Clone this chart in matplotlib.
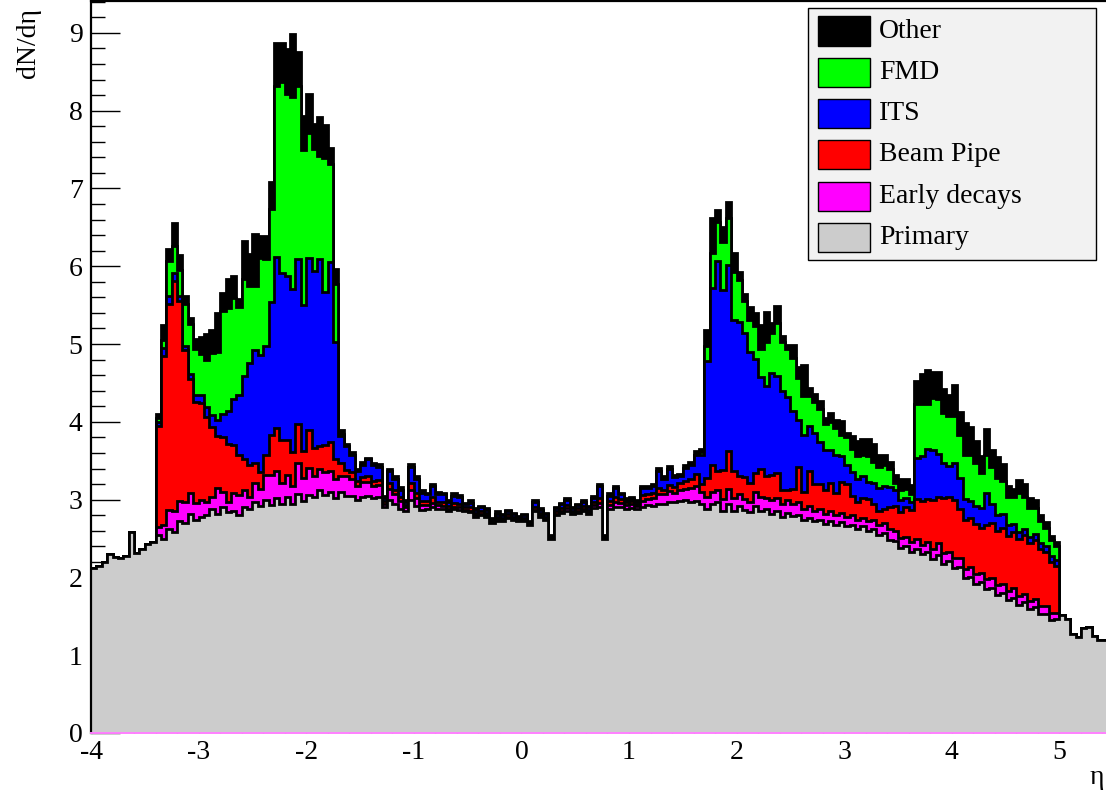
import numpy as np
import matplotlib.pyplot as plt
from matplotlib.patches import Rectangle
from matplotlib.ticker import MultipleLocator

plt.rcParams['font.family'] = ['Liberation Serif', 'DejaVu Serif']
plt.rcParams['axes.unicode_minus'] = False

# Binning: eta from -4 in steps of 0.05
eta_min = -4.0
bin_width = 0.05
n_bins = 189
stack_first = 12   # first bin with secondaries (eta = -3.40)
fmd_fwd_first = 113  # first bin of forward FMD part (eta = 1.65)

# Primary particles, all bins
primary = [
    2.12, 2.15, 2.20, 2.30, 2.26, 2.25, 2.28, 2.58, 2.31, 2.36, 2.43, 2.46,
    # -3.40 .. -1.70
    2.55, 2.50, 2.62, 2.58, 2.72, 2.70, 2.82, 2.74, 2.78, 2.80,
    2.88, 2.82, 2.90, 2.84, 2.86, 2.80, 2.90, 2.88, 2.97, 2.92,
    2.99, 2.93, 3.02, 2.95, 3.04, 2.94, 3.07, 2.98, 3.06, 3.04,
    3.12, 3.06, 3.10, 3.02, 3.10,
    # -1.65 .. 1.60
    3.05, 3.05, 3.00, 3.03, 3.05, 3.02, 3.03, 2.90, 3.00, 2.95,
    2.88, 2.85, 3.00, 2.92, 2.87, 2.88, 2.90, 2.88, 2.88, 2.85,
    2.88, 2.87, 2.85, 2.84, 2.78, 2.80, 2.78, 2.70, 2.73, 2.73,
    2.76, 2.74, 2.72, 2.73, 2.67, 2.85, 2.78, 2.74, 2.50, 2.80,
    2.83, 2.86, 2.82, 2.83, 2.85, 2.81, 2.89, 2.90, 2.50, 2.88,
    2.90, 2.90, 2.88, 2.89, 2.88, 2.90, 2.93, 2.92, 2.95, 2.95,
    2.97, 2.97, 2.98, 2.99, 2.97, 2.98,
    # 1.65 .. 4.95
    2.95, 2.88, 2.94, 2.97, 2.86, 2.95, 2.85, 2.92, 2.87, 2.84,
    2.92, 2.86, 2.88, 2.82, 2.86, 2.78, 2.83, 2.79, 2.80, 2.74,
    2.77, 2.72, 2.74, 2.69, 2.72, 2.67, 2.71, 2.66, 2.68, 2.62,
    2.66, 2.60, 2.62, 2.55, 2.57, 2.48, 2.47, 2.38, 2.40, 2.33,
    2.37, 2.30, 2.33, 2.24, 2.29, 2.17, 2.21, 2.12, 2.13, 1.99,
    2.01, 1.92, 1.94, 1.85, 1.87, 1.78, 1.80, 1.71, 1.74, 1.65,
    1.68, 1.59, 1.62, 1.53, 1.53, 1.45, 1.46,
    # 5.00 .. 5.40
    1.52, 1.46, 1.27, 1.24, 1.35, 1.36, 1.25, 1.20, 1.20,
]

# Secondaries, bins from eta = -3.40 to 4.95
early = [
    .10, .17, .25, .28, .26, .27, .26, .22, .21, .17,
    .15, .33, .20, .13, .22, .26, .22, .16, .25, .22,
    .33, .39, .35, .27, .28, .24, .40, .30, .35, .27,
    .28, .30, .27, .25, .20,
    .25, .22, .18, .20, .18, .15, .16, .05, .14, .12,
    .10, .05, .12, .10, .06, .05, .06, .05, .04, .03,
    .03, .03, .02, .02, .02, .02, .02, .01, .02, .01,
    .02, .01, .01, .01, .01, .02, .02, .01, .01, .02,
    .02, .03, .02, .03, .03, .03, .04, .06, .01, .05,
    .07, .06, .05, .05, .04, .08, .08, .10, .12, .12,
    .14, .12, .15, .15, .18, .20,
    .15, .15, .16, .15, .15, .19, .17, .15, .14, .13,
    .18, .17, .14, .17, .16, .17, .16, .15, .17, .14,
    .15, .14, .14, .13, .14, .13, .12, .12, .12, .12,
    .11, .12, .12, .12, .13, .14, .13, .13, .12, .12,
    .12, .12, .12, .12, .15, .15, .12, .13, .12, .12,
    .12, .13, .12, .13, .12, .12, .12, .12, .12, .11,
    .11, .11, .10, .10, .10, .09, .08,
]

pipe = [
    1.30, 2.18, 2.65, 2.95, 2.57, 1.95, 1.47, 1.30, 1.25, 1.09,
    .90, .67, .70, .74, .62, .52, .40, .40, .25, .22,
    .25, .51, .55, .55, .45, .43, .50, .35, .49, .35,
    .29, .34, .37, .25, .17,
    .08, .08, .06, .06, .08, .07, .06, .03, .08, .06,
    .05, .03, .10, .06, .05, .05, .07, .04, .05, .04,
    .05, .05, .03, .04, .03, .04, .03, .02, .03, .03,
    .03, .03, .02, .03, .01, .04, .03, .03, .00, .03,
    .04, .04, .02, .03, .04, .03, .04, .06, .00, .05,
    .06, .05, .04, .04, .03, .08, .06, .06, .08, .06,
    .08, .07, .08, .10, .12, .15,
    .10, .25, .34, .25, .37, .48, .35, .24, .28, .25,
    .24, .37, .28, .33, .32, .18, .14, .20, .45, .22,
    .45, .34, .32, .30, .36, .29, .40, .42, .25, .23,
    .25, .29, .20, .18, .18, .29, .32, .33, .38, .42,
    .52, .56, .56, .63, .60, .70, .70, .74, .63, .63,
    .63, .64, .58, .70, .71, .70, .72, .70, .73, .74,
    .75, .74, .76, .73, .70, .66, .61,
]

its = [
    .05, .10, .10, .10, .07, .05, .07, .08, .10, .13,
    .16, .21, .30, .43, .60, .76, 1.07, 1.31, 1.45, 1.50,
    1.40, 1.71, 2.20, 2.14, 2.10, 2.10, 2.12, 1.87, 2.21, 2.28,
    2.40, 1.97, 2.31, 1.50, .35,
    .31, .22, .13, .16, .21, .20, .17, .04, .15, .14,
    .10, .04, .20, .19, .11, .09, .14, .10, .10, .05,
    .09, .09, .04, .06, .04, .04, .04, .02, .04, .03,
    .04, .03, .02, .03, .01, .06, .04, .03, .01, .04,
    .05, .06, .03, .04, .05, .03, .05, .15, .01, .07,
    .12, .06, .03, .03, .02, .09, .08, .09, .22, .14,
    .20, .13, .09, .17, .17, .24,
    .38, 1.50, 2.28, 2.70, 2.31, 2.40, 1.94, 1.97, 1.85, 1.68,
    1.47, 1.18, 1.16, 1.31, 1.25, 1.27, 1.19, 1.00, .60, .73,
    .58, .66, .54, .52, .42, .48, .33, .25, .31, .29,
    .29, .22, .28, .30, .29, .25, .20, .16, .12, .10,
    .52, .58, .64, .65, .55, .45, .40, .48, .40, .27,
    .22, .23, .25, .40, .24, .20, .17, .15, .10, .08,
    .08, .08, .08, .08, .08, .08, .07,
]

# FMD contributes only on the two sides (-3.40 .. -1.70 and 1.65 .. 4.95)
fmd_back = [
    .05, .10, .45, .35, .33, .55, .64, .59, .53, .60,
    .79, .87, 1.33, 1.32, 1.29, 1.14, 1.25, .99, .83, 1.24,
    1.12, 1.19, 2.20, 2.46, 2.35, 2.47, 2.23, 2.00, 1.60, 1.57,
    1.33, 1.72, 1.27, .75, .03,
]
fmd_fwd = [
    .03, .20, .45, .50, .62, .60, .61, .54, .41, .41,
    .42, .36, .56, .51, .68, .63, .61, .68, .55, .50,
    .38, .39, .43, .33, .36, .35, .27, .35, .29, .30,
    .26, .33, .27, .27, .27, .24, .10, .13, .12, .10,
    .70, .67, .58, .67, .70, .65, .65, .60, .55, .57,
    .60, .55, .45, .50, .48, .48, .43, .35, .35, .50,
    .42, .37, .33, .28, .22, .20, .18,
]

other = [
    .05, .20, .15, .30, .20, .10, .08, .13, .22, .34,
    .30, .50, .22, .38, .29, .10, .48, .42, .67, .29,
    .30, .35, .55, .50, .57, .80, .43, .43, .50, .32,
    .50, .43, .20, .20, .05,
    .03, .04, .03, .03, .02, .03, .04, .03, .02, .03,
    .03, .02, .04, .03, .03, .02, .03, .03, .02, .02,
    .03, .02, .02, .03, .02, .02, .02, .02, .03, .02,
    .02, .02, .02, .02, .02, .03, .02, .02, .02, .02,
    .02, .03, .02, .02, .03, .02, .03, .03, .02, .03,
    .03, .02, .02, .02, .02, .03, .03, .03, .04, .03,
    .04, .03, .03, .04, .04, .05,
    .04, .20, .45, .15, .20, .20, .25, .10, .09, .16,
    .17, .30, .39, .13, .22, .07, .06, .17, .13, .40,
    .11, .11, .10, .08, .12, .10, .18, .06, .17, .19,
    .21, .22, .23, .15, .13, .08, .10, .14, .12, .12,
    .30, .38, .44, .33, .35, .30, .27, .40, .30, .40,
    .35, .28, .22, .33, .22, .27, .22, .15, .10, .17,
    .16, .13, .10, .08, .08, .05, .06,
]

labels = ["Primary", "Early decays", "Beam Pipe", "ITS", "FMD", "Other"]
colors = ["#cccccc", "#ff00ff", "#ff0000", "#0000ff", "#00ff00", "#000000"]


def full_range(vals, start):
    arr = np.zeros(n_bins)
    arr[start:start + len(vals)] = vals
    return arr


edges = eta_min + bin_width * np.arange(n_bins + 1)
layers = [
    np.array(primary),
    full_range(early, stack_first),
    full_range(pipe, stack_first),
    full_range(its, stack_first),
    full_range(fmd_back, stack_first) + full_range(fmd_fwd, fmd_fwd_first),
    full_range(other, stack_first),
]
tops = np.cumsum(layers, axis=0)

fig = plt.figure(figsize=(11.06, 7.92), dpi=100)
ax = fig.add_axes([91 / 1106, 59 / 792, 0.93, 732 / 792])

# draw like a THStack: total first, each lower sum painted over it
for top, col in reversed(list(zip(tops, colors))):
    ax.stairs(top, edges, baseline=0, fill=True, facecolor=col, edgecolor='none', lw=0)
    ax.stairs(top, edges, baseline=None, color='black', lw=2.0)

ax.set_xlim(-4, -4 + 0.93 * 1106 / 107.6)
ax.set_ylim(0, 9.41)
ax.set_axisbelow(True)
ax.set_xticks(range(-4, 6))
ax.set_yticks(range(0, 10))
ax.xaxis.set_minor_locator(MultipleLocator(0.2))
ax.yaxis.set_minor_locator(MultipleLocator(0.2))
ax.tick_params(which='both', direction='in', labelsize=20, width=1)
ax.tick_params(axis='y', which='major', length=21, pad=6)
ax.tick_params(axis='y', which='minor', length=10)
ax.tick_params(axis='x', which='major', length=16, pad=5)
ax.tick_params(axis='x', which='minor', length=8)
ax.spines['right'].set_visible(False)
ax.spines['top'].set_linewidth(1.6)
ax.spines['left'].set_linewidth(1.6)
ax.spines['bottom'].set_color('#ff80ff')
ax.spines['bottom'].set_linewidth(1.4)

fig.text(28 / 1106, 1 - 8 / 792, 'dN/dη', rotation=90, ha='center', va='top', fontsize=20)
fig.text(1097 / 1106, 1 - 777 / 792, 'η', ha='center', va='center', fontsize=20)

# legend box in ROOT style
W, H = 1106, 792
fig.patches.append(Rectangle((808 / W, 1 - 260 / H), 288 / W, 252 / H,
                             transform=fig.transFigure, facecolor='#f2f2f2',
                             edgecolor='black', lw=1))
for k, (lab, col) in enumerate(zip(labels[::-1], colors[::-1])):
    yc = 31 + k * 41.3
    fig.patches.append(Rectangle((818 / W, 1 - (yc + 14.5) / H), 52 / W, 29 / H,
                                 transform=fig.transFigure, facecolor=col,
                                 edgecolor='black', lw=1))
    fig.text(879 / W, 1 - yc / H, lab, ha='left', va='center', fontsize=20)

fig.savefig('out.png', dpi=100)
